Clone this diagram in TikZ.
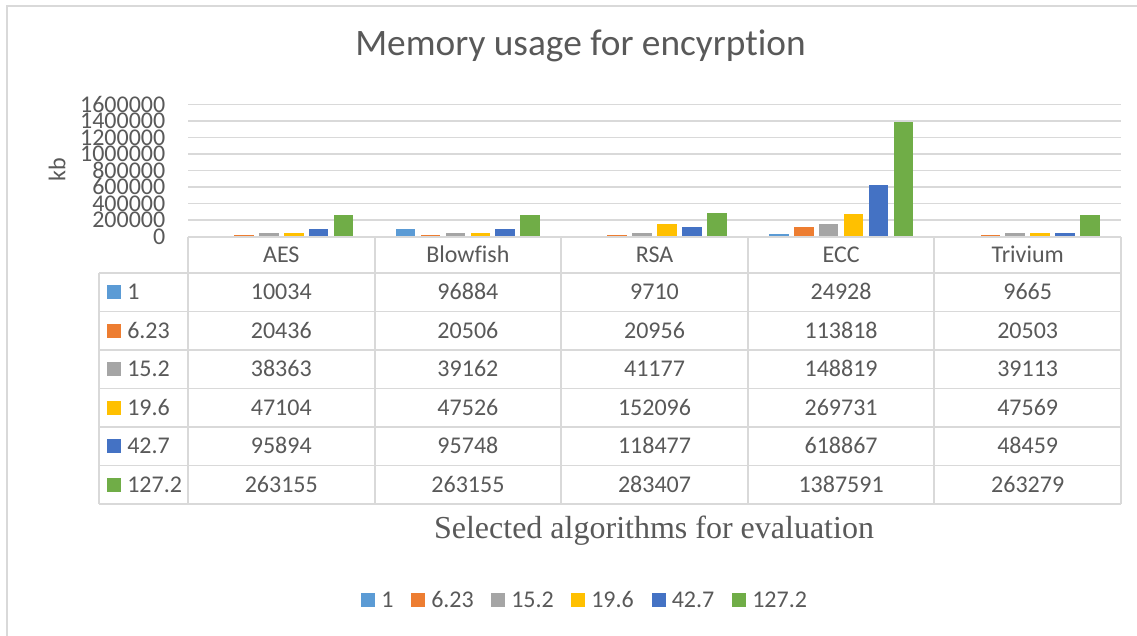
\documentclass[tikz,border=0pt]{standalone}
\usepackage{fontspec}
\setmainfont{Carlito}[Ligatures=NoCommon]
\newfontfamily\axisserif{Liberation Serif}
\definecolor{txt}{HTML}{595959}
\definecolor{rule}{HTML}{D9D9D9}
\definecolor{sa}{HTML}{5B9BD5}
\definecolor{sb}{HTML}{ED7D31}
\definecolor{sc}{HTML}{A5A5A5}
\definecolor{sd}{HTML}{FFC000}
\definecolor{se}{HTML}{4472C4}
\definecolor{sf}{HTML}{70AD47}
\tikzset{
  lbl/.style={text=txt, inner sep=0pt, font=\fontsize{18}{18}\selectfont,
              text height=11.4pt, text depth=0pt},
  gridline/.style={draw=rule, line width=1.4pt},
  cellline/.style={draw=rule, line width=1.4pt},
  key/.style={minimum size=10.5pt, inner sep=0pt, draw=none}
}
\begin{document}
\begin{tikzpicture}[x=0.75pt, y=-0.75pt]
\useasboundingbox (0,0) rectangle (1137,635);
\fill[white] (0,0) rectangle (1137,635);
% chart frame (left and top edges)
\draw[rule, line width=1.5pt] (7,650) -- (7,6) -- (1150,6);

% title
\node[text=txt, inner sep=0pt, font=\fontsize{28}{28}\selectfont, text height=18pt, text depth=0pt]
  (title) at (580.5,43.5) {Memory usage for encyrption};

% horizontal gridlines and value axis labels
\foreach \k/\v in {0/0,1/200000,2/400000,3/600000,4/800000,5/1000000,6/1200000,7/1400000,8/1600000}{
  \draw[gridline] (188,236.5-16.5*\k) -- (1121,236.5-16.5*\k);
  \node[lbl, anchor=east] (tick\k) at (165.5,236.5-16.5*\k) {\v};
}
\node[text=txt, inner sep=0pt, rotate=90, font=\fontsize{18}{18}\selectfont] (ytitle) at (57,170) {kb};

% bars (values in thousands of kb)
\foreach \g/\va/\vb/\vc/\vd/\ve/\vf in {
  0/10.034/20.436/38.363/47.104/95.894/263.155,
  1/96.884/20.506/39.162/47.526/95.748/263.155,
  2/9.710/20.956/41.177/152.096/118.477/283.407,
  3/24.928/113.818/148.819/269.731/618.867/1387.591,
  4/9.665/20.503/39.113/47.569/48.459/263.279}{
  \pgfmathsetmacro\cx{188+186.6*(\g+0.5)}
  \foreach \i/\val/\col in {0/\va/sa,1/\vb/sb,2/\vc/sc,3/\vd/sd,4/\ve/se,5/\vf/sf}{
    \pgfmathsetmacro\bx{\cx+(\i-2.5)*24.9}
    \pgfmathsetmacro\by{236.5-\val*0.0825}
    \fill[\col] (\bx-9.8,236.5) rectangle (\bx+9.8,\by);
  }
}

% data table grid
\draw[cellline] (188,237) -- (1121,237);
\foreach \r in {0,...,6}{
  \draw[cellline] (99,273+38.5*\r) -- (1121,273+38.5*\r);
}
\draw[cellline] (99,273) -- (99,504);
\foreach \x in {188,374.6,561.2,747.8,934.4,1121}{
  \draw[cellline] (\x,237) -- (\x,504);
}

% column headers
\foreach \g/\name in {0/AES,1/Blowfish,2/RSA,3/ECC,4/Trivium}{
  \node[lbl] (head\g) at (188+186.6*\g+93.3,255) {\name};
}

% row headers with series keys, and cell values
\foreach \r/\col/\series/\a/\b/\c/\d/\e in {
  0/sa/1/10034/96884/9710/24928/9665,
  1/sb/6.23/20436/20506/20956/113818/20503,
  2/sc/15.2/38363/39162/41177/148819/39113,
  3/sd/19.6/47104/47526/152096/269731/47569,
  4/se/42.7/95894/95748/118477/618867/48459,
  5/sf/127.2/263155/263155/283407/1387591/263279}{
  \pgfmathsetmacro\ry{273+38.5*(\r+0.5)}
  \node[key, fill=\col] (rowkey\r) at (114,\ry) {};
  \node[lbl, anchor=west] (rowname\r) at (127,\ry) {\series};
  \node[lbl] (cell\r a) at (281.3,\ry) {\a};
  \node[lbl] (cell\r b) at (467.9,\ry) {\b};
  \node[lbl] (cell\r c) at (654.5,\ry) {\c};
  \node[lbl] (cell\r d) at (841.1,\ry) {\d};
  \node[lbl] (cell\r e) at (1027.7,\ry) {\e};
}

% category axis title
\node[text=txt, inner sep=0pt, font=\axisserif\fontsize{24}{24}\selectfont, text height=15.9pt, text depth=0pt]
  (xtitle) at (654,528) {Selected algorithms for evaluation};

% legend
\foreach \x/\col/\series in {368/sa/1,418/sb/6.23,498/sc/15.2,578/sd/19.6,658.5/se/42.7,739/sf/127.2}{
  \node[key, fill=\col] (leg\series) at (\x,600) {};
  \node[lbl, anchor=west] (legtext\series) at (\x+13,600) {\series};
}
\end{tikzpicture}
\end{document}
